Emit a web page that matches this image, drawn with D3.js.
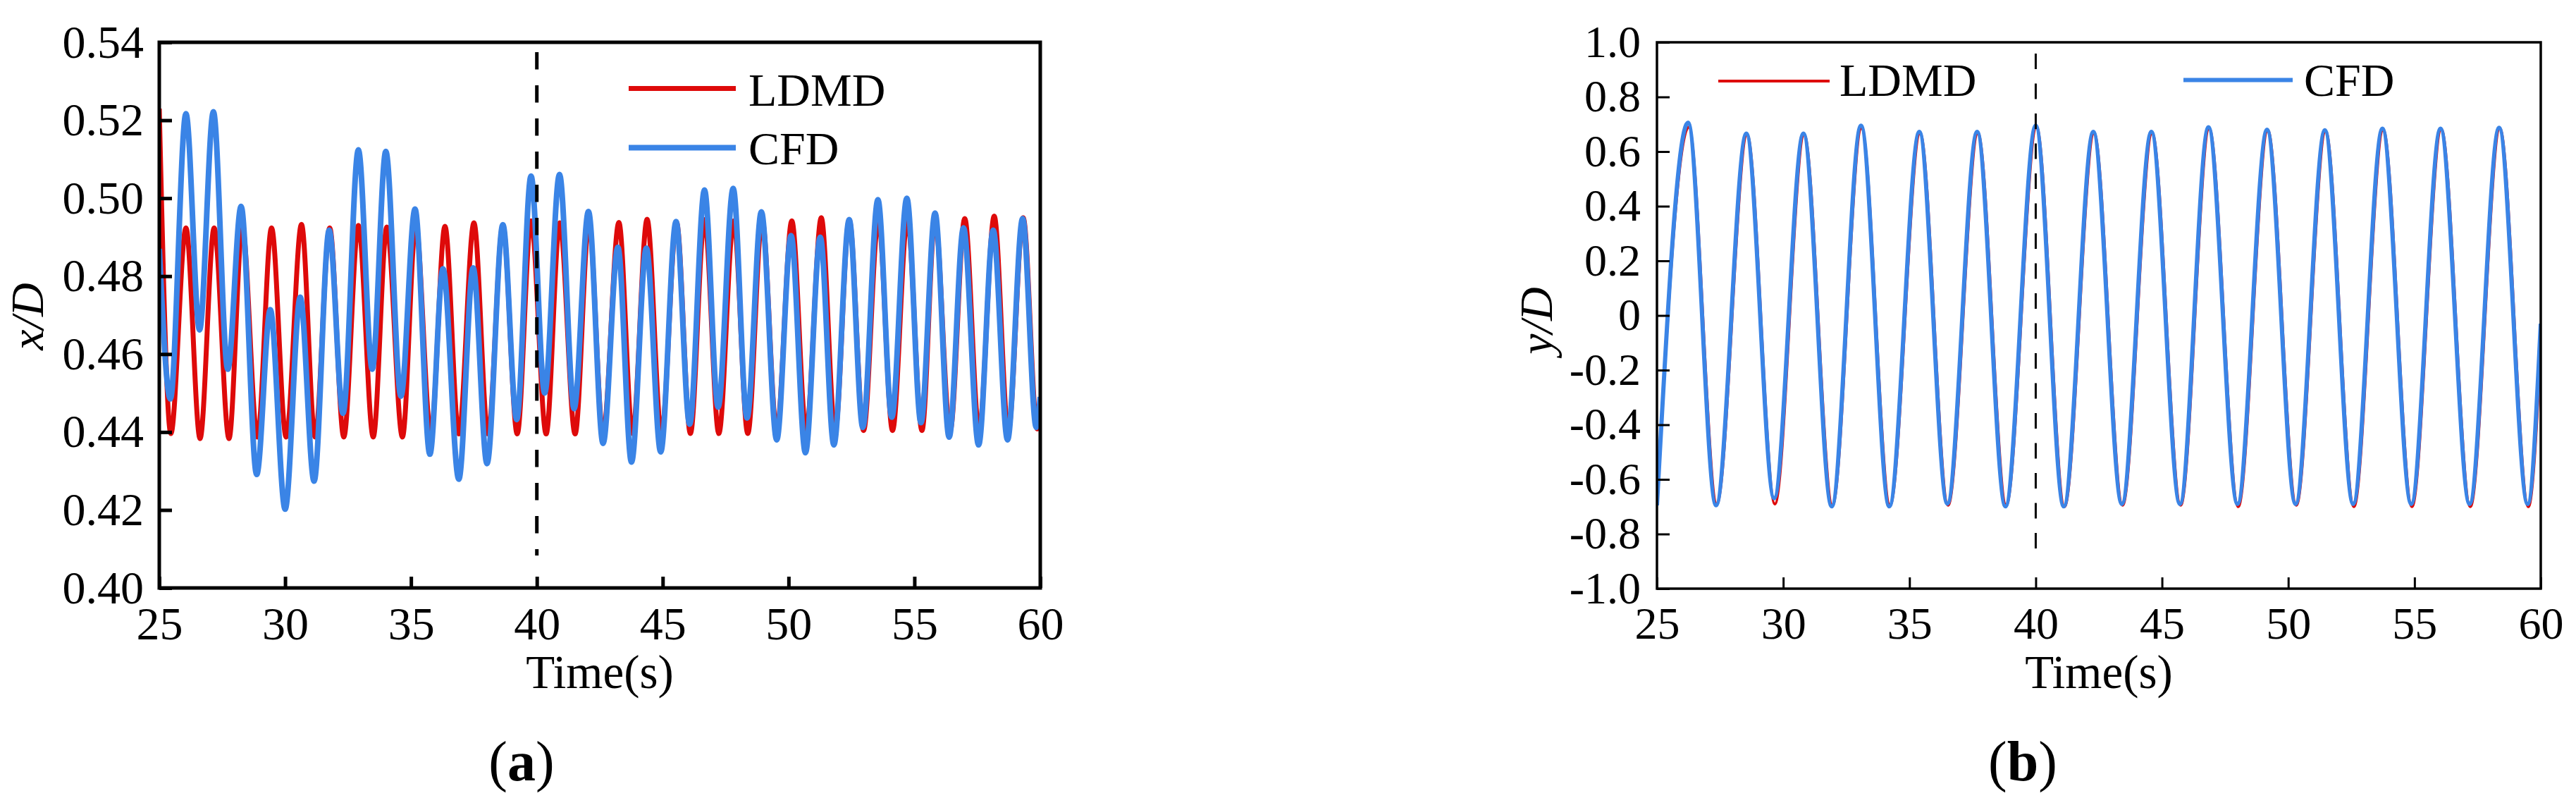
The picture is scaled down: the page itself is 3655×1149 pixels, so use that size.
<!DOCTYPE html>
<html>
<head>
<meta charset="utf-8">
<script src="https://cdn.jsdelivr.net/npm/d3@7"></script>
<style>
body { margin: 0; background: #fff; }
svg text { font-family: 'Liberation Serif', 'Times New Roman', serif; fill: #000; }
</style>
</head>
<body>
<div id="chart"></div>
<script>
var width = 3655,
	height = 1149;

var SERIF = "'Liberation Serif', 'Times New Roman', serif";

// shared time axis
var timeTicks = [25, 30, 35, 40, 45, 50, 55, 60];

// panel (a) y axis
var xdTicks = [0.40, 0.42, 0.44, 0.46, 0.48, 0.50, 0.52, 0.54];
var xdLabels = ["0.40", "0.42", "0.44", "0.46", "0.48", "0.50", "0.52", "0.54"];

// panel (b) y axis
var ydTicks = [-1.0, -0.8, -0.6, -0.4, -0.2, 0, 0.2, 0.4, 0.6, 0.8, 1.0];
var ydLabels = ["-1.0", "-0.8", "-0.6", "-0.4", "-0.2", "0", "0.2", "0.4", "0.6", "0.8", "1.0"];

// peaks and troughs, [time, value]
var ldmdX = [[25.0,0.523],[25.46,0.4396],[26.06,0.4924],[26.62,0.4383],[27.18,0.4924],[27.77,0.4383],
	[28.3,0.4924],[28.9,0.4387],[29.46,0.4924],[30.04,0.4387],[30.65,0.4933],[31.19,0.4387],
	[31.77,0.4924],[32.33,0.4387],[32.91,0.493],[33.5,0.4387],[34.04,0.4926],[34.66,0.4387],
	[35.19,0.493],[35.79,0.4395],[36.35,0.4928],[36.9,0.4395],[37.5,0.4937],[38.06,0.4395],
	[38.65,0.493],[39.22,0.4395],[39.77,0.4942],[40.37,0.4395],[40.91,0.4937],[41.52,0.4395],
	[42.07,0.4935],[42.63,0.4396],[43.26,0.4938],[43.8,0.4396],[44.38,0.4946],[44.95,0.4396],
	[45.55,0.4938],[46.1,0.4396],[46.66,0.4945],[47.23,0.4396],[47.82,0.4942],[48.38,0.4396],
	[48.95,0.4945],[49.53,0.4404],[50.13,0.4942],[50.7,0.4404],[51.3,0.495],[51.85,0.4404],
	[52.41,0.4945],[52.98,0.4404],[53.57,0.4945],[54.13,0.4404],[54.72,0.4945],[55.3,0.4404],
	[55.82,0.4945],[56.42,0.4404],[57.0,0.4948],[57.57,0.4404],[58.17,0.4954],[58.73,0.4404],
	[59.32,0.495],[59.88,0.4408],[60.0,0.442]];

var cfdX = [[25.0,0.487],[25.44,0.4485],[26.06,0.5217],[26.6,0.4662],[27.15,0.5222],[27.72,0.4561],
	[28.25,0.4979],[28.87,0.4291],[29.41,0.4714],[30.0,0.4202],[30.6,0.4746],[31.15,0.4274],
	[31.75,0.4918],[32.3,0.4448],[32.91,0.5124],[33.46,0.4561],[34.0,0.512],[34.6,0.4492],
	[35.16,0.4972],[35.75,0.4343],[36.27,0.4819],[36.9,0.4279],[37.47,0.4821],[38.02,0.4319],
	[38.65,0.4932],[39.2,0.4432],[39.77,0.5057],[40.31,0.45],[40.9,0.5061],[41.48,0.446],
	[42.05,0.4966],[42.63,0.4371],[43.22,0.4874],[43.76,0.4323],[44.35,0.4872],[44.92,0.4349],
	[45.53,0.494],[46.07,0.442],[46.66,0.5021],[47.2,0.4464],[47.8,0.5025],[48.35,0.4436],
	[48.92,0.4965],[49.53,0.438],[50.1,0.4904],[50.67,0.4347],[51.26,0.49],[51.8,0.4367],
	[52.41,0.4945],[52.95,0.4412],[53.55,0.4996],[54.1,0.4438],[54.7,0.5],[55.26,0.4424],
	[55.82,0.4962],[56.38,0.4387],[56.95,0.4924],[57.55,0.4367],[58.13,0.4918],[58.7,0.438],
	[59.3,0.4948],[59.84,0.4412],[60.0,0.449]];

var ldmdY = [[25.0,-0.68],[26.26,0.69],[27.37,-0.69],[28.57,0.662],[29.67,-0.69],[30.83,0.662],
	[31.95,-0.695],[33.1,0.685],[34.23,-0.695],[35.42,0.668],[36.53,-0.695],[37.71,0.668],
	[38.83,-0.695],[40.03,0.69],[41.14,-0.7],[42.31,0.668],[43.44,-0.695],[44.61,0.668],
	[45.74,-0.695],[46.87,0.685],[48.02,-0.7],[49.19,0.678],[50.32,-0.695],[51.48,0.675],
	[52.6,-0.7],[53.76,0.68],[54.9,-0.7],[56.06,0.682],[57.21,-0.7],[58.38,0.685],
	[59.51,-0.7],[60.0,-0.12]];

var cfdY = [[25.0,-0.695],[26.23,0.706],[27.34,-0.695],[28.54,0.666],[29.64,-0.669],[30.8,0.666],
	[31.92,-0.699],[33.08,0.695],[34.2,-0.699],[35.39,0.672],[36.5,-0.689],[37.68,0.672],
	[38.8,-0.699],[40.0,0.695],[41.11,-0.699],[42.28,0.672],[43.41,-0.69],[44.58,0.672],
	[45.71,-0.69],[46.84,0.689],[47.99,-0.69],[49.16,0.68],[50.29,-0.69],[51.45,0.678],
	[52.57,-0.69],[53.73,0.684],[54.87,-0.69],[56.03,0.684],[57.18,-0.69],[58.35,0.687],
	[59.48,-0.69],[60.0,-0.03]];

var RED = "#de0a0a",
	BLUE = "#3a84e6";

var svg = d3.select("#chart").append("svg")
	.attr("width", width)
	.attr("height", height)
	.style("background-color", "#fff");

var panels = [
	{
		id: "a", left: 226, right: 1476, top: 60, bottom: 834,
		yDomain: [0.40, 0.54], yTicks: xdTicks, yLabels: xdLabels,
		frame: 5, tick: 5, tickLen: 18, fontSize: 66, pad: 22,
		dashW: 5, dash: "24.5,22.5", dashTop: 74, dashBottom: 788,
		yTitle: "x/D", yTitleX: 61, yTitleY: 449,
		tag: "a", tagX: 740,
		series: [
			{name: "LDMD", data: ldmdX, color: RED, width: 7},
			{name: "CFD", data: cfdX, color: BLUE, width: 8}
		],
		legend: [
			{x1: 892, x2: 1044, y: 125.5, tx: 1062, ty: 150},
			{x1: 892, x2: 1044, y: 209.5, tx: 1062, ty: 233}
		]
	},
	{
		id: "b", left: 2351, right: 3605, top: 60, bottom: 835,
		yDomain: [-1.0, 1.0], yTicks: ydTicks, yLabels: ydLabels,
		frame: 3.5, tick: 3, tickLen: 18, fontSize: 64, pad: 23,
		dashW: 3, dash: "22,20.5", dashTop: 76, dashBottom: 790,
		yTitle: "y/D", yTitleX: 2202, yTitleY: 455,
		tag: "b", tagX: 2870,
		series: [
			{name: "LDMD", data: ldmdY, color: RED, width: 4},
			{name: "CFD", data: cfdY, color: BLUE, width: 6}
		],
		legend: [
			{x1: 2438, x2: 2596, y: 115, tx: 2610, ty: 136},
			{x1: 3098, x2: 3253, y: 113.5, tx: 3269, ty: 136}
		]
	}
];

panels.forEach(drawPanel);

function drawPanel(p){
	var x = d3.scaleLinear().domain([25, 60]).range([p.left, p.right]);
	var y = d3.scaleLinear().domain(p.yDomain).range([p.bottom, p.top]);
	var g = svg.append("g").attr("class", "panel-" + p.id);

	g.append("clipPath")
		.attr("id", "clip-" + p.id)
		.append("rect")
		.attr("x", p.left)
		.attr("y", p.top)
		.attr("width", p.right - p.left)
		.attr("height", p.bottom - p.top);

	var line = d3.line()
		.x(function(d){ return x(d[0]); })
		.y(function(d){ return y(d[1]); })
		.curve(d3.curveMonotoneX);

	p.series.forEach(function(s){
		g.append("path")
			.datum(s.data)
			.attr("d", line)
			.attr("fill", "none")
			.attr("stroke", s.color)
			.attr("stroke-width", s.width)
			.attr("stroke-linejoin", "round")
			.attr("clip-path", "url(#clip-" + p.id + ")");
	});

	// marker at t = 40 s
	g.append("line")
		.attr("x1", x(40)).attr("x2", x(40))
		.attr("y1", p.dashTop).attr("y2", p.dashBottom)
		.attr("stroke", "#000")
		.attr("stroke-width", p.dashW)
		.attr("stroke-dasharray", p.dash);

	// axes, ticks pointing inward
	var yAxis = d3.axisLeft(y)
		.tickValues(p.yTicks)
		.tickFormat(function(d, i){ return p.yLabels[i]; })
		.tickSize(-p.tickLen)
		.tickPadding(p.pad);

	var xAxis = d3.axisBottom(x)
		.tickValues(timeTicks)
		.tickFormat(function(d){ return d; })
		.tickSize(-p.tickLen + 2)
		.tickPadding(26);

	var ya = g.append("g")
		.attr("transform", "translate(" + p.left + ",0)")
		.call(yAxis);
	var xa = g.append("g")
		.attr("transform", "translate(0," + p.bottom + ")")
		.call(xAxis);

	[ya, xa].forEach(function(a){
		a.attr("font-size", p.fontSize)
			.attr("font-family", null);
		a.select(".domain").remove();
		a.selectAll(".tick line")
			.attr("stroke", "#000")
			.attr("stroke-width", p.tick);
		a.selectAll(".tick text")
			.attr("fill", "#000")
			.style("font-family", SERIF)
			.style("font-size", p.fontSize + "px");
	});

	g.append("rect")
		.attr("x", p.left)
		.attr("y", p.top)
		.attr("width", p.right - p.left)
		.attr("height", p.bottom - p.top)
		.attr("fill", "none")
		.attr("stroke", "#000")
		.attr("stroke-width", p.frame);

	// legend
	p.series.forEach(function(s, i){
		var L = p.legend[i];
		g.append("line")
			.attr("x1", L.x1).attr("x2", L.x2)
			.attr("y1", L.y).attr("y2", L.y)
			.attr("stroke", s.color)
			.attr("stroke-width", s.width);
		g.append("text")
			.attr("x", L.tx)
			.attr("y", L.ty)
			.attr("font-size", 66)
			.style("font-family", SERIF)
			.text(s.name);
	});

	// titles
	g.append("text")
		.attr("transform", "translate(" + p.yTitleX + "," + p.yTitleY + ") rotate(-90)")
		.attr("text-anchor", "middle")
		.attr("font-size", 66)
		.attr("font-style", "italic")
		.style("font-family", SERIF)
		.text(p.yTitle);

	g.append("text")
		.attr("x", (p.left + p.right) / 2)
		.attr("y", 976)
		.attr("text-anchor", "middle")
		.attr("font-size", 67)
		.style("font-family", SERIF)
		.text("Time(s)");

	var tag = g.append("text")
		.attr("x", p.tagX)
		.attr("y", 1107)
		.attr("text-anchor", "middle")
		.attr("font-size", 80)
		.style("font-family", SERIF);
	tag.append("tspan").text("(");
	tag.append("tspan").attr("font-weight", "bold").text(p.tag);
	tag.append("tspan").text(")");
}
</script>
</body>
</html>
